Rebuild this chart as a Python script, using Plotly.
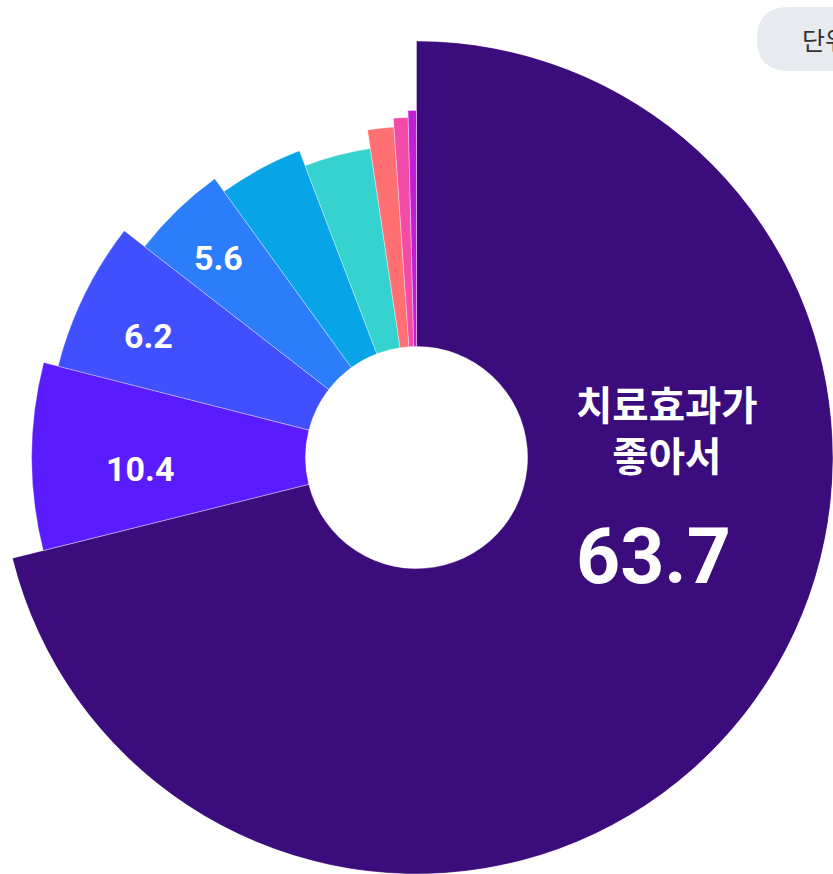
import plotly.graph_objects as go

# ---- data ----
categories = ["치료효과가 좋아서", "항목2", "항목3", "항목4", "항목5", "항목6", "항목7", "항목8", "항목9"]
shares = [63.7, 10.4, 6.2, 5.6, 4.5, 4.2, 2.5, 1.6, 1.3]          # labelled values (%)
arc_deg = [256.0, 28.3, 23.5, 16.3, 15.0, 12.4, 4.6, 2.5, 1.4]    # drawn angular size of each slice
depth = [420, 388, 373, 347, 331, 315, 334, 343, 350]             # drawn outer radius of each slice
colors = ["#3b0c7c", "#5a1cfc", "#4050ff", "#2b7df9", "#08a4e8",
          "#36d2d0", "#ff7073", "#f24ba8", "#c01fd6"]
labelled = [0, 1, 2, 3]

W, H = 833, 874
HOLE = 112
RMAX = 420

# slice centres (clockwise from 12 o'clock)
theta = []
acc = 0.0
for a in arc_deg:
    theta.append(acc + a / 2)
    acc += a

fig = go.Figure()
fig.add_trace(go.Barpolar(
    r=[d - HOLE for d in depth],
    base=[HOLE] * len(depth),
    theta=theta,
    width=arc_deg,
    marker=dict(color=colors, line=dict(color="rgba(255,255,255,0.45)", width=0.8)),
    text=categories,
    hoverinfo="text",
))

side = W / H
fig.update_layout(
    width=W, height=H,
    margin=dict(l=0, r=0, t=0, b=0),
    paper_bgcolor="white",
    showlegend=False,
    polar=dict(
        domain=dict(x=[0, 1], y=[0, side]),
        bgcolor="white",
        angularaxis=dict(visible=False, direction="clockwise", rotation=90, showgrid=False, showline=False),
        radialaxis=dict(visible=False, range=[0, RMAX], showgrid=False, showline=False),
        bargap=0,
    ),
)

def px(x, y):
    return x / W, 1 - y / H

# badge
x0, y0, x1, y1, rr = 757, 7, 900, 71, 32
def P(x, y):
    a, b = px(x, y)
    return f"{a:.5f},{b:.5f}"
path = (f"M {P(x0+rr, y0)} L {P(x1, y0)} L {P(x1, y1)} L {P(x0+rr, y1)} "
        f"Q {P(x0, y1)} {P(x0, (y0+y1)/2)} Q {P(x0, y0)} {P(x0+rr, y0)} Z")
fig.add_shape(type="path", path=path, xref="paper", yref="paper",
              fillcolor="#e7eaee", line=dict(width=0), layer="below")
bx, by = px(800, 39)
fig.add_annotation(x=bx, y=by, xref="paper", yref="paper", text="단위 : %",
                   showarrow=False, xanchor="left", yanchor="middle",
                   font=dict(family="Noto Sans CJK KR", size=25, color="#333333"))

num_font = "Roboto, sans-serif"
kr_font = "Noto Sans CJK KR"

# main label
a, b = px(667, 428)
fig.add_annotation(x=a, y=b, xref="paper", yref="paper", text="<b>치료효과가<br>좋아서</b>",
                   showarrow=False, xanchor="center", yanchor="middle", align="center",
                   font=dict(family=kr_font, size=39.5, color="white"))

label_pos = {0: (653, 557, 77), 1: (140, 469, 34), 2: (148, 336, 34), 3: (218, 258, 34)}
for i in labelled:
    cx, cy, fs = label_pos[i]
    a, b = px(cx, cy)
    fig.add_annotation(x=a, y=b, xref="paper", yref="paper", text=f"<b>{shares[i]}</b>",
                       showarrow=False, xanchor="center", yanchor="middle",
                       font=dict(family=num_font, size=fs, color="white"))

fig.write_html("out.html", config={"displayModeBar": False},
               post_script="document.body.style.margin='0';")
